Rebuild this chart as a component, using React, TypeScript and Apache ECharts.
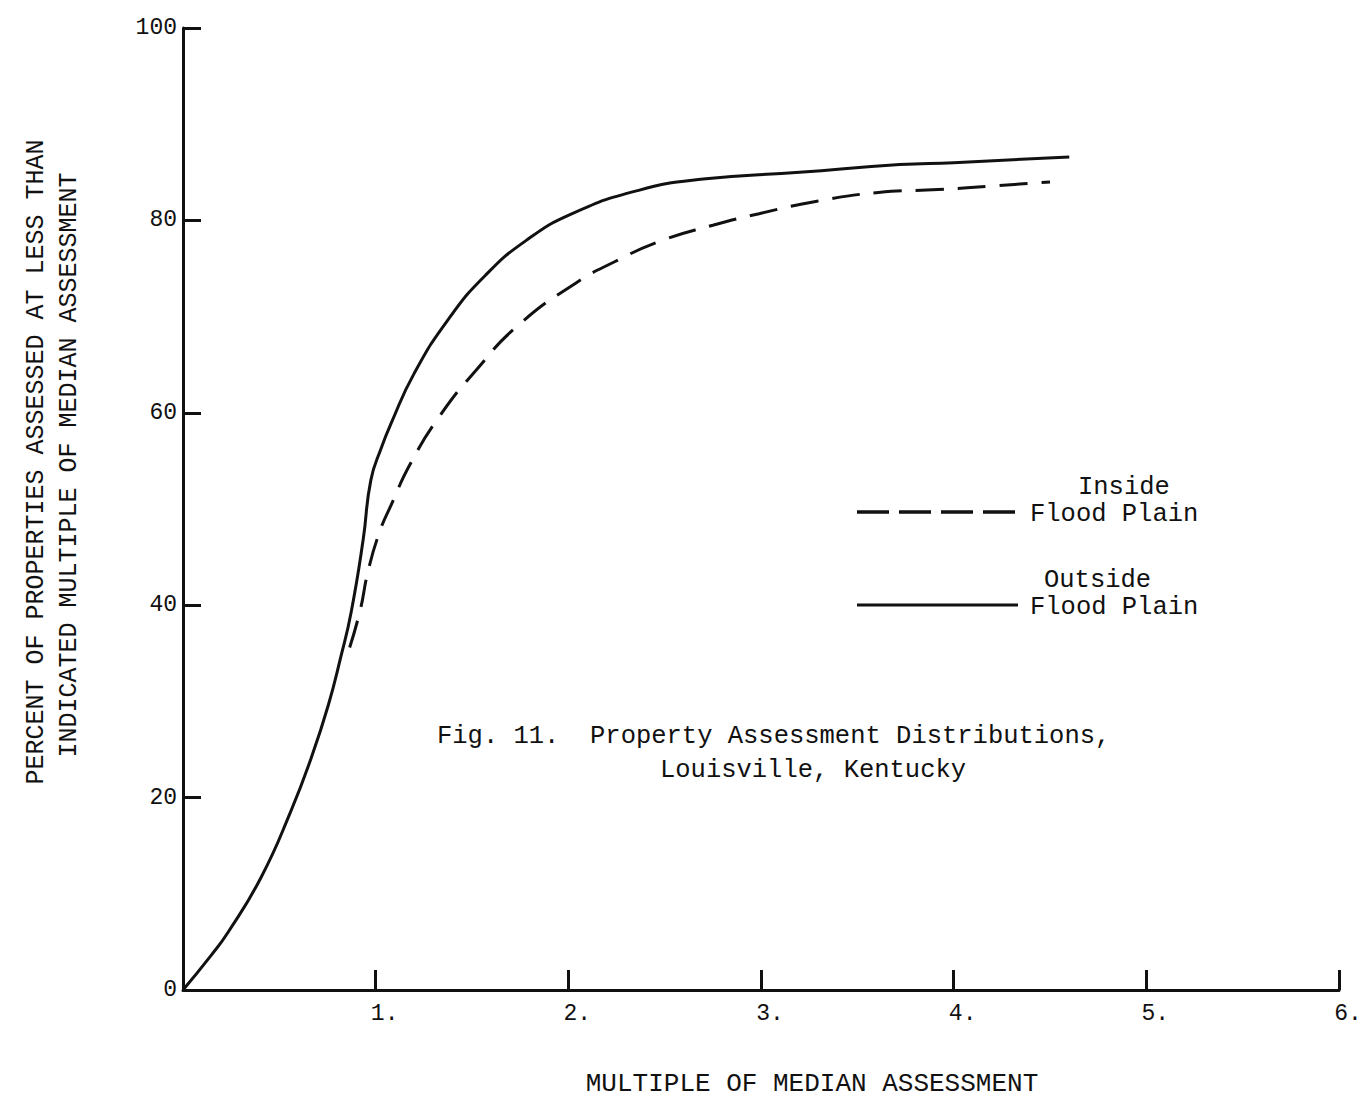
import React, { useEffect, useRef } from "react";
import * as echarts from "echarts";

// Multiple of median assessment (x) vs percent of properties (y)
const outsideFloodPlain: [number, number][] = [
  [0, 0], [0.146, 3.6], [0.234, 6.0], [0.405, 11.7], [0.56, 18.6], [0.665, 24.1], [0.754, 29.6],
  [0.82, 34.7], [0.873, 39.3], [0.935, 46.8], [0.975, 53.0], [1.03, 56.4], [1.08, 58.9],
  [1.2, 64.1], [1.38, 69.8], [1.57, 74.3], [1.78, 77.9], [2.02, 80.7], [2.36, 83.1],
  [2.7, 84.3], [3.2, 85.0], [3.72, 85.8], [4.0, 86.0], [4.6, 86.6],
];

const insideFloodPlain: [number, number][] = [
  [0.865, 35.6], [0.92, 39.5], [0.96, 43.5], [1.02, 47.6], [1.08, 50.4], [1.18, 54.7],
  [1.33, 59.6], [1.52, 64.4], [1.74, 69.1], [2.04, 73.5], [2.24, 75.7], [2.47, 77.8],
  [2.75, 79.5], [2.99, 80.7], [3.29, 82.0], [3.61, 82.9], [3.92, 83.2], [4.22, 83.6],
  [4.5, 84.0],
];

const xTickValues = [0, 1, 2, 3, 4, 5, 6];
const yTickValues = [0, 20, 40, 60, 80, 100];

const seriesNames = ["Inside", "Outside"];
const legendSubtitle = "Flood Plain";
const captionLines = ["Fig. 11.  Property Assessment Distributions,", "Louisville, Kentucky"];
const xTitle = "MULTIPLE OF MEDIAN ASSESSMENT";
const yTitleLines = ["PERCENT OF PROPERTIES ASSESSED AT LESS THAN", "INDICATED MULTIPLE OF MEDIAN ASSESSMENT"];

const FONT = "'Liberation Mono', 'Courier New', monospace";
const INK = "#111";

export default function App() {
  const ref = useRef<HTMLDivElement>(null);

  useEffect(() => {
    document.body.style.margin = "0";
    if (!ref.current) return;
    const chart = echarts.init(ref.current, undefined, { renderer: "svg" });

    const textStyle = (size: number) => ({ fontFamily: FONT, fontSize: size, fill: INK, lineHeight: size - 2 });

    chart.setOption({
      animation: false,
      backgroundColor: "#fff",
      grid: { left: 183, right: 27, top: 28, bottom: 120, containLabel: false },
      xAxis: {
        type: "value",
        min: xTickValues[0],
        max: xTickValues[xTickValues.length - 1],
        interval: 1,
        splitLine: { show: false },
        axisLine: { show: true, lineStyle: { color: INK, width: 3 } },
        axisTick: { show: true, inside: true, length: 20, lineStyle: { color: INK, width: 3 } },
        axisLabel: {
          formatter: (v: number) => (v === 0 ? "" : v + "."),
          fontFamily: FONT,
          fontSize: 23,
          color: INK,
          margin: 12,
          padding: [0, 0, 0, 18],
        },
      },
      yAxis: {
        type: "value",
        min: yTickValues[0],
        max: yTickValues[yTickValues.length - 1],
        interval: 20,
        splitLine: { show: false },
        axisLine: { show: true, lineStyle: { color: INK, width: 3 } },
        axisTick: { show: true, inside: true, length: 18, lineStyle: { color: INK, width: 3 } },
        axisLabel: { fontFamily: FONT, fontSize: 23, color: INK, margin: 6 },
      },
      series: [
        {
          name: seriesNames[1],
          type: "line",
          data: outsideFloodPlain,
          showSymbol: false,
          smooth: 0.5,
          lineStyle: { color: INK, width: 3 },
        },
        {
          name: seriesNames[0],
          type: "line",
          data: insideFloodPlain,
          showSymbol: false,
          smooth: 0.5,
          lineStyle: { color: INK, width: 3, type: [28, 14] },
        },
      ],
      graphic: [
        // legend: inside (dashed)
        {
          type: "line",
          shape: { x1: 857, y1: 512, x2: 1016, y2: 512 },
          style: { stroke: INK, lineWidth: 3.5, lineDash: [32, 10] },
        },
        { type: "text", x: 1078, y: 487, style: { ...textStyle(25.5), text: seriesNames[0], textAlign: "left", textVerticalAlign: "middle" } },
        { type: "text", x: 1030, y: 514, style: { ...textStyle(25.5), text: legendSubtitle, textAlign: "left", textVerticalAlign: "middle" } },
        // legend: outside (solid)
        {
          type: "line",
          shape: { x1: 857, y1: 605, x2: 1018, y2: 605 },
          style: { stroke: INK, lineWidth: 3 },
        },
        { type: "text", x: 1044, y: 580, style: { ...textStyle(25.5), text: seriesNames[1], textAlign: "left", textVerticalAlign: "middle" } },
        { type: "text", x: 1030, y: 607, style: { ...textStyle(25.5), text: legendSubtitle, textAlign: "left", textVerticalAlign: "middle" } },
        // caption
        { type: "text", x: 437, y: 736, style: { ...textStyle(25.5), text: captionLines[0], textAlign: "left", textVerticalAlign: "middle" } },
        { type: "text", x: 660, y: 770, style: { ...textStyle(25.5), text: captionLines[1], textAlign: "left", textVerticalAlign: "middle" } },
        // x title
        { type: "text", x: 812, y: 1084, style: { ...textStyle(26), text: xTitle, textAlign: "center", textVerticalAlign: "middle" } },
        // y title
        { type: "text", x: 36, y: 462, rotation: Math.PI / 2, style: { ...textStyle(25), text: yTitleLines[0], textAlign: "center", textVerticalAlign: "middle" } },
        { type: "text", x: 69, y: 465, rotation: Math.PI / 2, style: { ...textStyle(25), text: yTitleLines[1], textAlign: "center", textVerticalAlign: "middle" } },
      ],
    });

    return () => chart.dispose();
  }, []);

  return <div ref={ref} style={{ width: 1366, height: 1110 }} />;
}
